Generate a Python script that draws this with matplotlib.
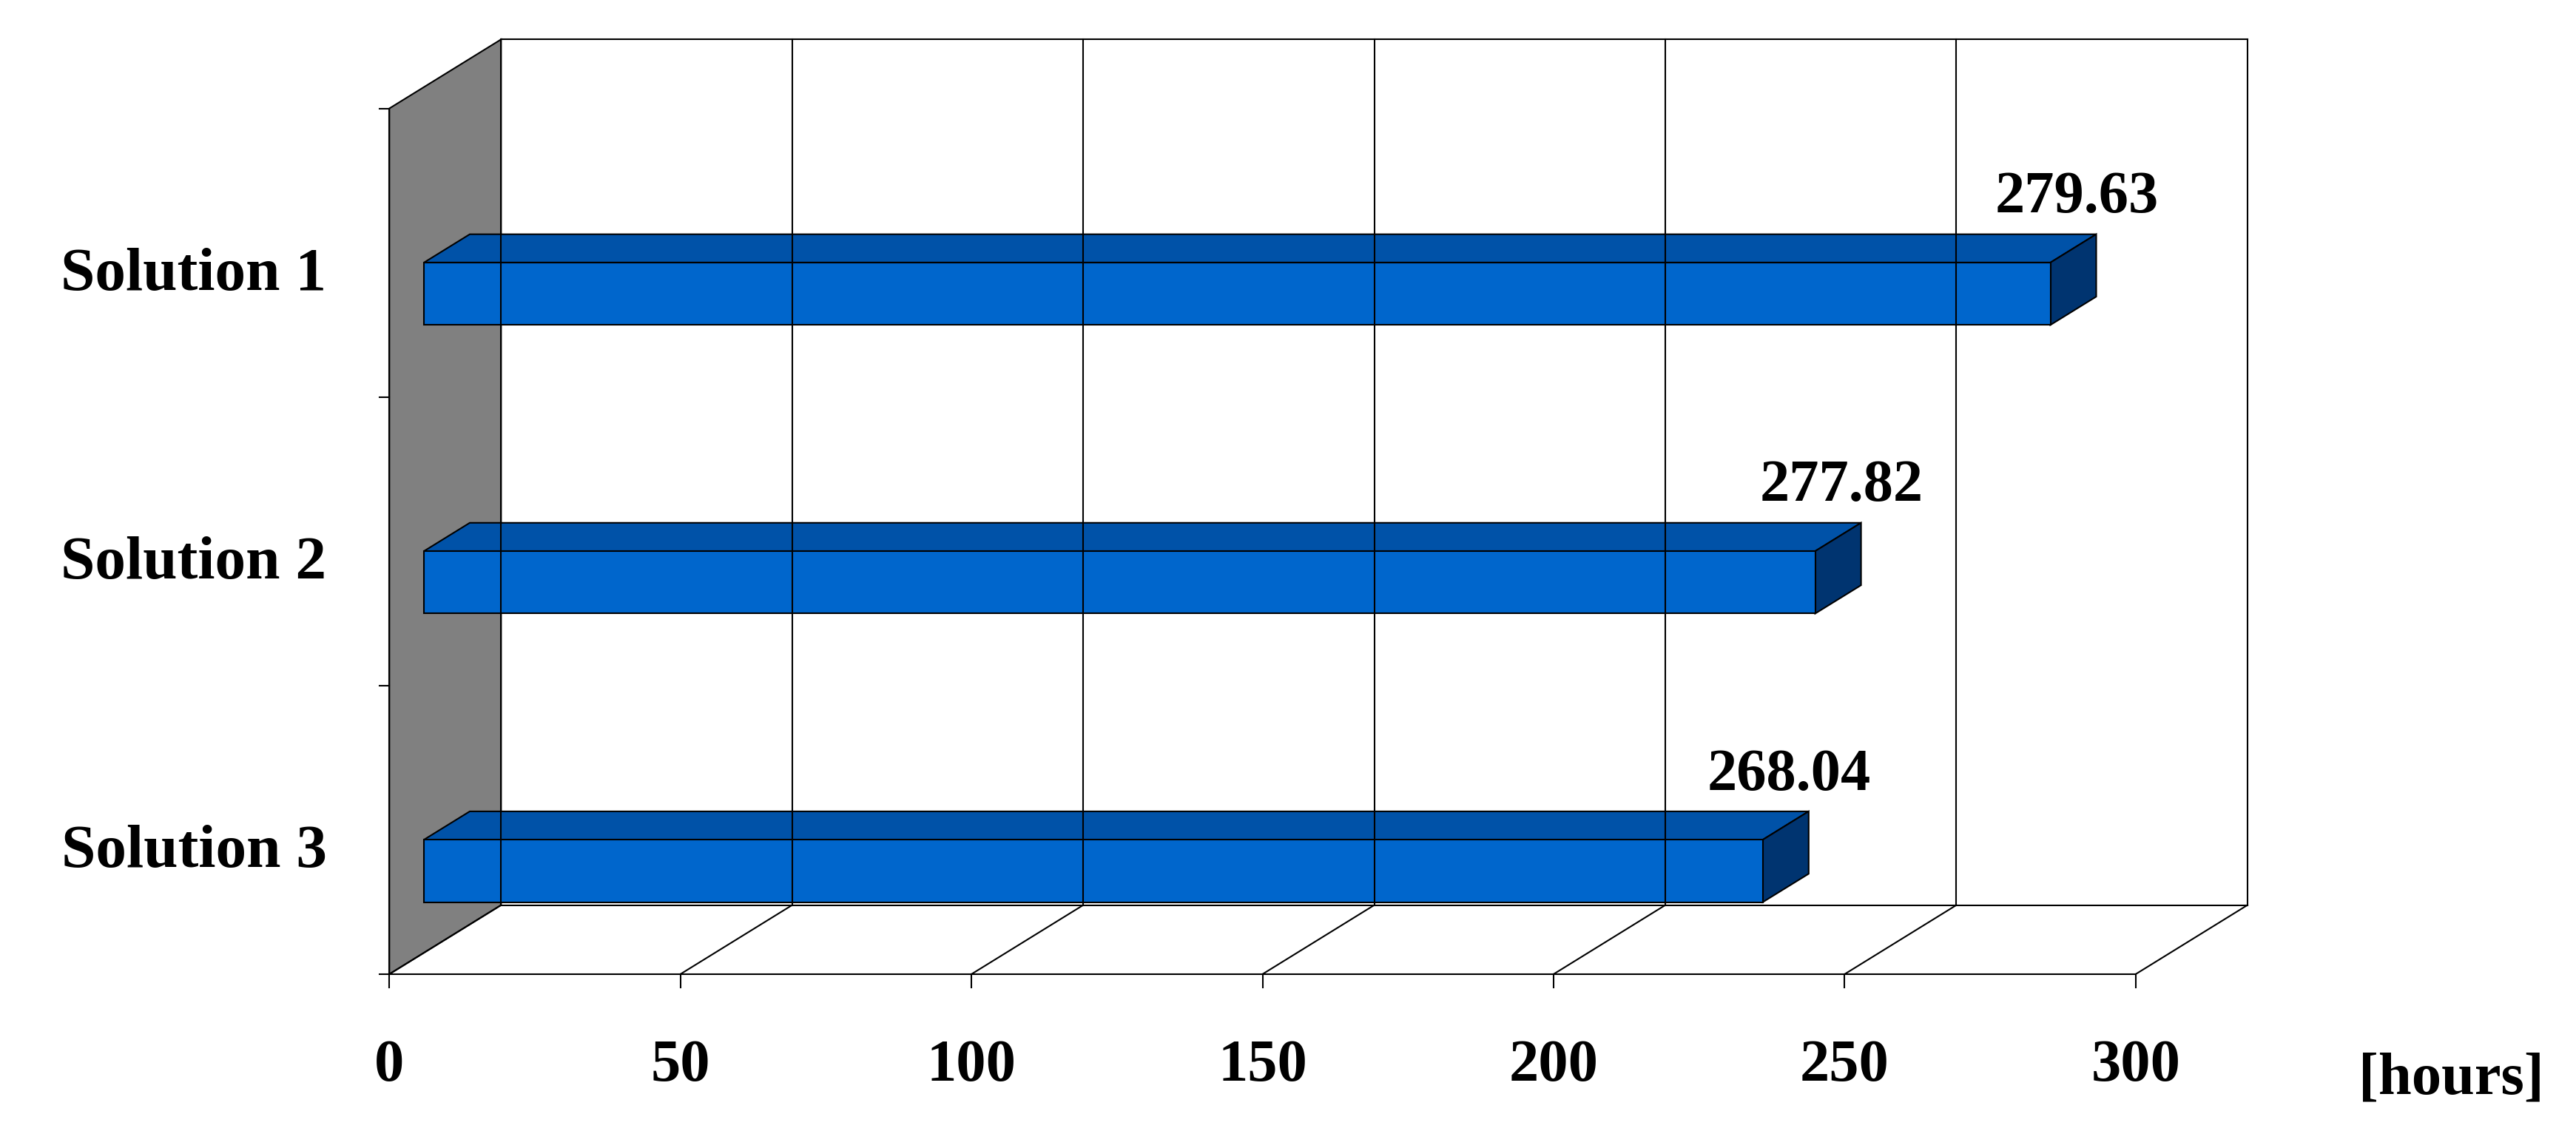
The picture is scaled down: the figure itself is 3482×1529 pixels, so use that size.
import matplotlib.pyplot as plt
from matplotlib.patches import Polygon

categories = ['Solution 1', 'Solution 2', 'Solution 3']
bar_values = [279.4, 239.0, 230.0]          # drawn bar lengths
value_labels = ['279.63', '277.82', '268.04']
xticks = [0, 50, 100, 150, 200, 250, 300]

W, H = 1568, 688.5
plt.rcParams['font.family'] = ['Liberation Serif', 'DejaVu Serif']
fig = plt.figure(figsize=(34.82, 15.29), dpi=100)
ax = fig.add_axes([0, 0, 1, 1])
ax.set_xlim(0, W)
ax.set_ylim(H, 0)
ax.axis('off')

X0, Y0, XS = 237, 593, 1063 / 300     # front floor origin and px per hour
DX, DY = 68, -42                      # depth vector
TOP = 66                              # front top of plot


def P(v, d, y):
    return X0 + v * XS + d * DX, y + d * DY


# left wall
ax.add_patch(Polygon([P(0, 0, Y0), P(0, 0, TOP), P(0, 1, TOP), P(0, 1, Y0)],
                     closed=True, fc='#808080', ec='black', lw=1.5))
# back wall gridlines and frame
for v in xticks:
    (x1, y1), (x2, y2) = P(v, 1, Y0), P(v, 1, TOP)
    ax.plot([x1, x2], [y1, y2], color='black', lw=1.5)
ax.plot(*zip(P(0, 1, TOP), P(300, 1, TOP)), color='black', lw=1.5)
# floor lines
for v in xticks:
    ax.plot(*zip(P(v, 0, Y0), P(v, 1, Y0)), color='black', lw=1.5)
    ax.plot(*zip(P(v, 0, Y0), P(v, 0, Y0 + 8)), color='black', lw=1.5)
    x, y = P(v, 0, Y0)
    ax.text(x, y + 56, str(v), ha='center', va='center', fontsize=58, fontweight='bold')
ax.plot(*zip(P(0, 0, Y0), P(300, 0, Y0)), color='black', lw=1.5)
ax.plot(*zip(P(0, 1, Y0), P(300, 1, Y0)), color='black', lw=1.5)
# left axis
ax.plot([X0, X0], [Y0, TOP], color='black', lw=1.5)
band = (Y0 - TOP) / len(categories)
for k in range(len(categories) + 1):
    y = Y0 - k * band
    ax.plot([X0 - 6, X0], [y, y], color='black', lw=1.5)

ax.text(1492, 657, '[hours]', ha='center', va='center', fontsize=58, fontweight='bold')

d0, d1, bh = 0.31, 0.72, 38
for i, (cat, val, lab) in enumerate(zip(categories, bar_values, value_labels)):
    ymid = TOP + (i + 0.5) * band + 38
    ax.text(118, ymid - 24, cat, ha='center', va='center', fontsize=60, fontweight='bold')
    yt, yb = ymid - bh / 2, ymid + bh / 2
    ax.add_patch(Polygon([P(0, d0, yt), P(val, d0, yt), P(val, d1, yt), P(0, d1, yt)],
                         closed=True, fc='#0052A8', ec='black', lw=1.5))
    ax.add_patch(Polygon([P(val, d0, yt), P(val, d1, yt), P(val, d1, yb), P(val, d0, yb)],
                         closed=True, fc='#003470', ec='black', lw=1.5))
    ax.add_patch(Polygon([P(0, d0, yt), P(val, d0, yt), P(val, d0, yb), P(0, d0, yb)],
                         closed=True, fc='#0066CC', ec='black', lw=1.5))
    x, y = P(val, d1, yt)
    ax.text(x - 12, y - 22, lab, ha='center', va='center', fontsize=58, fontweight='bold')

fig.savefig('out.png', dpi=100, facecolor='white')
